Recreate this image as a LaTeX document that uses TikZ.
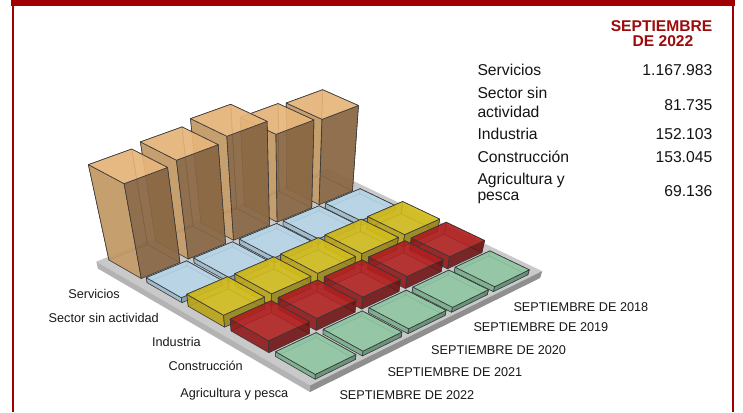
\documentclass[tikz,border=0pt]{standalone}
\usepackage{fontspec}
\setmainfont{Liberation Sans}
\definecolor{frame}{HTML}{A00000}
\definecolor{headred}{HTML}{9C0C0C}
\definecolor{tanT}{HTML}{E8B67C}
\definecolor{tanL}{HTML}{C49A66}
\definecolor{tanR}{HTML}{876542}
\definecolor{bluT}{HTML}{B7D7EA}
\definecolor{bluL}{HTML}{9CBBCE}
\definecolor{bluR}{HTML}{7E9CAE}
\definecolor{yelT}{HTML}{D3BD1A}
\definecolor{yelL}{HTML}{B9A315}
\definecolor{yelR}{HTML}{978512}
\definecolor{redT}{HTML}{B21F1F}
\definecolor{redL}{HTML}{8F1515}
\definecolor{redR}{HTML}{701010}
\definecolor{grnT}{HTML}{8EC7A3}
\definecolor{grnL}{HTML}{76AD8B}
\definecolor{grnR}{HTML}{5C8C70}
\definecolor{plT}{HTML}{C9C9C9}
\definecolor{plL}{HTML}{B3B3B3}
\definecolor{plR}{HTML}{8F8F8F}
% perspective projection: a = year index, b = category index, h = height
\newcommand\PP[4]{%
  \pgfmathsetmacro\PPd{1+0.019195*(#2)-0.019303*(#3)-0.0012*(#4)}%
  \pgfmathsetmacro\PPx{(144.44+49.888*(#2)+36.697*(#3)-0.348*(#4))/\PPd}%
  \pgfmathsetmacro\PPy{(261.24-14.245*(#2)+17.280*(#3)-1.32*(#4))/\PPd}%
  \coordinate (#1) at (\PPx pt,-\PPy pt);}
\newcommand\Cub[9]{%
  \pgfmathsetmacro\cAm{#1-#3}\pgfmathsetmacro\cAp{#1+#3}%
  \pgfmathsetmacro\cBm{#2-#3}\pgfmathsetmacro\cBp{#2+#3}%
  \pgfmathsetmacro\cOp{#9*0.35}%
  \PP{gL}{\cAm}{\cBm}{#4}\PP{gB}{\cAm}{\cBp}{#4}\PP{gR}{\cAp}{\cBp}{#4}\PP{gT}{\cAp}{\cBm}{#4}%
  \PP{tL}{\cAm}{\cBm}{#5}\PP{tB}{\cAm}{\cBp}{#5}\PP{tR}{\cAp}{\cBp}{#5}\PP{tT}{\cAp}{\cBm}{#5}%
  \filldraw[face,fill=#8,fill opacity=\cOp] (gL)--(gT)--(tT)--(tL)--cycle;
  \filldraw[face,fill=#7,fill opacity=\cOp] (gT)--(gR)--(tR)--(tT)--cycle;
  \filldraw[face,fill=#7,fill opacity=#9] (gL)--(gB)--(tB)--(tL)--cycle;
  \filldraw[face,fill=#8,fill opacity=#9] (gB)--(gR)--(tR)--(tB)--cycle;
  \filldraw[face,fill=#6,fill opacity=#9] (tL)--(tB)--(tR)--(tT)--cycle;}
\newcommand\Bar[2]{\Cub{#1}{0}{0.41}{0}{#2}{tanT}{tanL}{tanR}{0.9}}
\newcommand\Slab[4]{\Cub{#1}{#2}{0.425}{0}{#3}{#4T}{#4L}{#4R}{0.88}}
\begin{document}
\begin{tikzpicture}[x=1pt,y=1pt,
  face/.style={draw=black!78,line width=0.6pt,line join=round},
  lab/.style={font=\fontsize{12.7}{15}\selectfont,inner sep=0pt,text=black!90},
  tab/.style={font=\fontsize{15.7}{19}\selectfont,inner sep=0pt,text=black!92},
  head/.style={font=\fontsize{15.6}{19}\selectfont\bfseries,inner sep=0pt,text=headred}]
\useasboundingbox (0,0) rectangle (743,-412);
\fill[white] (0,0) rectangle (743,-412);
% frame
\fill[frame] (11,0) rectangle (734.7,-5.6);
\draw[frame,line width=2.6pt] (12.8,0) -- (12.8,-412);
\draw[frame,line width=2pt] (732.9,0) -- (732.9,-412);
% platform
\PP{pL}{-0.6}{-0.5}{0}\PP{pB}{-0.6}{4.5}{0}\PP{pR}{4.7}{4.5}{0}\PP{pK}{4.7}{-0.5}{0}
\PP{qL}{-0.6}{-0.5}{-7}\PP{qB}{-0.6}{4.5}{-7}\PP{qR}{4.7}{4.5}{-7}
\fill[plT] (pL)--(pB)--(pR)--(pK)--cycle;
\fill[plL] (pL)--(pB)--(qB)--(qL)--cycle;
\fill[plR] (pB)--(pR)--(qR)--(qB)--cycle;
% cells, back to front
\Bar{4}{77}
\Bar{3}{79} \Slab{4}{1}{5}{blu}
\Bar{2}{92} \Slab{3}{1}{5}{blu} \Slab{4}{2}{12}{yel}
\Bar{1}{88} \Slab{2}{1}{5}{blu} \Slab{3}{2}{12}{yel} \Slab{4}{3}{12}{red}
\Bar{0}{85} \Slab{1}{1}{5}{blu} \Slab{2}{2}{12}{yel} \Slab{3}{3}{12}{red} \Slab{4}{4}{5}{grn}
\Slab{0}{1}{5}{blu} \Slab{1}{2}{12}{yel} \Slab{2}{3}{12}{red} \Slab{3}{4}{5}{grn}
\Slab{0}{2}{12}{yel} \Slab{1}{3}{12}{red} \Slab{2}{4}{5}{grn}
\Slab{0}{3}{12}{red} \Slab{1}{4}{5}{grn}
\Slab{0}{4}{5}{grn}
% category labels
\node[lab,anchor=base east] (c1) at (120,-298) {Servicios};
\node[lab,anchor=base east] (c2) at (159,-322.5) {Sector sin actividad};
\node[lab,anchor=base east] (c3) at (201,-346) {Industria};
\node[lab,anchor=base east] (c4) at (243,-370.5) {Construcción};
\node[lab,anchor=base east] (c5) at (288.5,-397.4) {Agricultura y pesca};
% year labels
\node[lab,anchor=base west] (y1) at (513.3,-311.7) {SEPTIEMBRE DE 2018};
\node[lab,anchor=base west] (y2) at (473.3,-331.7) {SEPTIEMBRE DE 2019};
\node[lab,anchor=base west] (y3) at (431,-354.3) {SEPTIEMBRE DE 2020};
\node[lab,anchor=base west] (y4) at (387.3,-376.7) {SEPTIEMBRE DE 2021};
\node[lab,anchor=base west] (y5) at (339.3,-399) {SEPTIEMBRE DE 2022};
% table
\node[head,anchor=base] (h1) at (661.5,-31.5) {SEPTIEMBRE};
\node[head,anchor=base] (h2) at (663,-46.5) {DE 2022};
\node[tab,anchor=base west] (t1) at (477.3,-75.5) {Servicios};
\node[tab,anchor=base east] (v1) at (712.5,-75.5) {1.167.983};
\node[tab,anchor=base west] (t2a) at (477.3,-98) {Sector sin};
\node[tab,anchor=base west] (t2b) at (477.3,-117) {actividad};
\node[tab,anchor=base east] (v2) at (712.5,-110.5) {81.735};
\node[tab,anchor=base west] (t3) at (477.3,-139.5) {Industria};
\node[tab,anchor=base east] (v3) at (712.5,-139.5) {152.103};
\node[tab,anchor=base west] (t4) at (477.3,-162.5) {Construcción};
\node[tab,anchor=base east] (v4) at (712.5,-162.5) {153.045};
\node[tab,anchor=base west] (t5a) at (477.3,-184.5) {Agricultura y};
\node[tab,anchor=base west] (t5b) at (477.3,-200) {pesca};
\node[tab,anchor=base east] (v5) at (712.5,-196.5) {69.136};
\end{tikzpicture}
\end{document}
